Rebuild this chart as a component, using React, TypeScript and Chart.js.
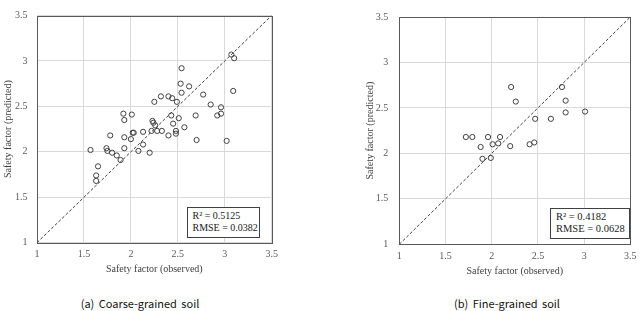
import React, { useEffect, useRef } from "react";
import { Chart, registerables } from "chart.js";

Chart.register(...registerables);

// ---- data ----
const coarseObserved = [1.57, 1.65, 1.63, 1.63, 1.74, 1.75, 1.8, 1.85, 1.89, 1.78, 1.92, 1.93, 1.93, 1.93, 2.01, 2.02, 2.03, 2.0, 2.08, 2.13, 2.13, 2.2, 2.22, 2.23, 2.24, 2.25, 2.26, 2.28, 2.33, 2.32, 2.4, 2.4, 2.44, 2.43, 2.45, 2.49, 2.48, 2.48, 2.51, 2.53, 2.54, 2.54, 2.57, 2.62, 2.69, 2.7, 2.77, 2.85, 2.92, 2.96, 2.96, 3.02, 3.07, 3.1, 3.09];
const coarsePredicted = [2.02, 1.84, 1.74, 1.68, 2.04, 2.01, 1.99, 1.96, 1.91, 2.18, 2.42, 2.35, 2.16, 2.04, 2.41, 2.21, 2.21, 2.14, 2.01, 2.08, 2.22, 1.99, 2.23, 2.34, 2.32, 2.55, 2.29, 2.23, 2.23, 2.61, 2.61, 2.18, 2.59, 2.4, 2.31, 2.55, 2.23, 2.2, 2.37, 2.75, 2.65, 2.92, 2.27, 2.72, 2.4, 2.13, 2.63, 2.52, 2.4, 2.49, 2.42, 2.12, 3.07, 3.03, 2.67];
const fineObserved = [1.72, 1.79, 1.96, 2.09, 1.88, 1.9, 1.99, 2.01, 2.07, 2.2, 2.21, 2.26, 2.41, 2.46, 2.47, 2.64, 2.76, 2.8, 2.8, 3.01];
const finePredicted = [2.18, 2.18, 2.18, 2.18, 2.07, 1.94, 1.95, 2.1, 2.11, 2.08, 2.73, 2.57, 2.1, 2.12, 2.38, 2.38, 2.73, 2.58, 2.45, 2.46];
const axisTicks = [1, 1.5, 2, 2.5, 3, 3.5];
const lineEnds = [1, 3.5];
const coarseStats = ["R² = 0.5125", "RMSE = 0.0382"];
const fineStats = ["R² = 0.4182", "RMSE = 0.0628"];
const captions = ["(a) Coarse-grained soil", "(b) Fine-grained soil"];
const xTitle = "Safety factor (observed)";
const yTitle = "Safety factor (predicted)";

const SERIF = "'Liberation Serif', 'Times New Roman', serif";

const framePlugin = {
  id: "frame",
  afterDraw(chart: any) {
    const { ctx, chartArea } = chart;
    ctx.save();
    ctx.strokeStyle = "#595959";
    ctx.lineWidth = 1;
    ctx.strokeRect(
      Math.round(chartArea.left) + 0.5,
      Math.round(chartArea.top) + 0.5,
      Math.round(chartArea.right - chartArea.left),
      Math.round(chartArea.bottom - chartArea.top)
    );
    ctx.restore();
  },
};

type Geo = {
  width: number;
  height: number;
  padLeft: number;
  padTop: number;
  padRight: number;
  yWidth: number;
  xHeight: number;
  yTitlePad: number;
  xTitlePad: number;
  xTickPad: number;
  yTickPad: number;
};

function Scatter({ observed, predicted, geo }: { observed: number[]; predicted: number[]; geo: Geo }) {
  const ref = useRef<HTMLCanvasElement | null>(null);
  useEffect(() => {
    if (!ref.current) return;
    const pts = observed.map((x, i) => ({ x, y: predicted[i] }));
    const diag = lineEnds.map((v) => ({ x: v, y: v }));
    const tickFont = { family: SERIF, size: 10 };
    const common = (isX: boolean) => ({
      type: "linear" as const,
      min: axisTicks[0],
      max: axisTicks[axisTicks.length - 1],
      afterBuildTicks: (s: any) => {
        s.ticks = axisTicks.map((v) => ({ value: v }));
      },
      afterFit: (s: any) => {
        if (isX) s.height = geo.xHeight;
        else s.width = geo.yWidth;
      },
      grid: { color: "#d9d9d9", drawTicks: false, lineWidth: 1 },
      border: { display: false },
      ticks: {
        font: tickFont,
        color: "#595959",
        padding: isX ? geo.xTickPad : geo.yTickPad,
        callback: (v: any) => String(v),
      },
      title: {
        display: true,
        text: isX ? xTitle : yTitle,
        font: { family: SERIF, size: 10 },
        color: "#404040",
        padding: isX ? { top: 0, bottom: geo.xTitlePad } : { top: geo.yTitlePad, bottom: 0 },
      },
    });
    const chart = new Chart(ref.current, {
      type: "scatter",
      data: {
        datasets: [
          {
            type: "line",
            data: diag,
            borderColor: "#404040",
            borderWidth: 1,
            borderDash: [3, 2],
            pointRadius: 0,
            fill: false,
          } as any,
          {
            type: "scatter",
            data: pts,
            pointRadius: 2.6,
            pointStyle: "circle",
            borderColor: "#404040",
            borderWidth: 1,
            backgroundColor: "rgba(0,0,0,0)",
          },
        ],
      },
      options: {
        responsive: false,
        animation: false,
        devicePixelRatio: 1,
        layout: {
          autoPadding: false,
          padding: { left: geo.padLeft, top: geo.padTop, right: geo.padRight, bottom: 0 },
        },
        plugins: { legend: { display: false }, tooltip: { enabled: false } },
        scales: { x: common(true), y: common(false) } as any,
      },
      plugins: [framePlugin],
    });
    return () => chart.destroy();
  }, []);
  return <canvas ref={ref} width={geo.width} height={geo.height} style={{ width: geo.width, height: geo.height, display: "block" }} />;
}

function StatsBox({ lines, left, top, width, height, size, padLeft }: any) {
  return (
    <div
      style={{
        position: "absolute",
        left,
        top,
        width,
        height,
        boxSizing: "border-box",
        border: "1px solid #404040",
        background: "#fff",
        fontFamily: SERIF,
        fontSize: size,
        lineHeight: "12.3px",
        color: "#1a1a1a",
        paddingLeft: padLeft,
        paddingTop: 2.5,
        whiteSpace: "pre",
      }}
    >
      {lines.map((l: string, i: number) => (
        <div key={i}>{l}</div>
      ))}
    </div>
  );
}

export default function App() {
  const leftGeo: Geo = {
    width: 300,
    height: 280,
    padLeft: 0,
    padTop: 7,
    padRight: 28.3,
    yWidth: 37,
    xHeight: 37.3,
    yTitlePad: 2.3,
    xTitlePad: 4.5,
    xTickPad: 6,
    yTickPad: 9.5,
  };
  const rightGeo: Geo = {
    width: 323,
    height: 280,
    padLeft: 42,
    padTop: 6.7,
    padRight: 7.7,
    yWidth: 37.3,
    xHeight: 35.7,
    yTitlePad: 2.7,
    xTitlePad: 2.3,
    xTickPad: 6.4,
    yTickPad: 11,
  };
  const captionStyle = (cx: number): React.CSSProperties => ({
    position: "absolute",
    left: cx - 100,
    width: 200,
    top: 295,
    textAlign: "center",
    fontFamily: "'Noto Sans CJK KR', 'Noto Sans', sans-serif",
    fontSize: 11,
    lineHeight: "16px",
    color: "#111",
    whiteSpace: "pre",
    wordSpacing: 2,
  });
  return (
    <div style={{ position: "absolute", left: 0, top: 0, width: 643, height: 311, overflow: "hidden", background: "#fff" }}>
      <div style={{ position: "absolute", left: 0, top: 0 }}>
        <Scatter observed={coarseObserved} predicted={coarsePredicted} geo={leftGeo} />
      </div>
      <div style={{ position: "absolute", left: 320, top: 0 }}>
        <Scatter observed={fineObserved} predicted={finePredicted} geo={rightGeo} />
      </div>
      <StatsBox lines={coarseStats} left={187} top={206.5} width={73} height={31.5} size={10} padLeft={4.5} />
      <StatsBox lines={fineStats} left={550} top={207.7} width={80} height={31.6} size={10.5} padLeft={5} />
      <div style={captionStyle(140)}>{captions[0]}</div>
      <div style={captionStyle(507)}>{captions[1]}</div>
    </div>
  );
}
